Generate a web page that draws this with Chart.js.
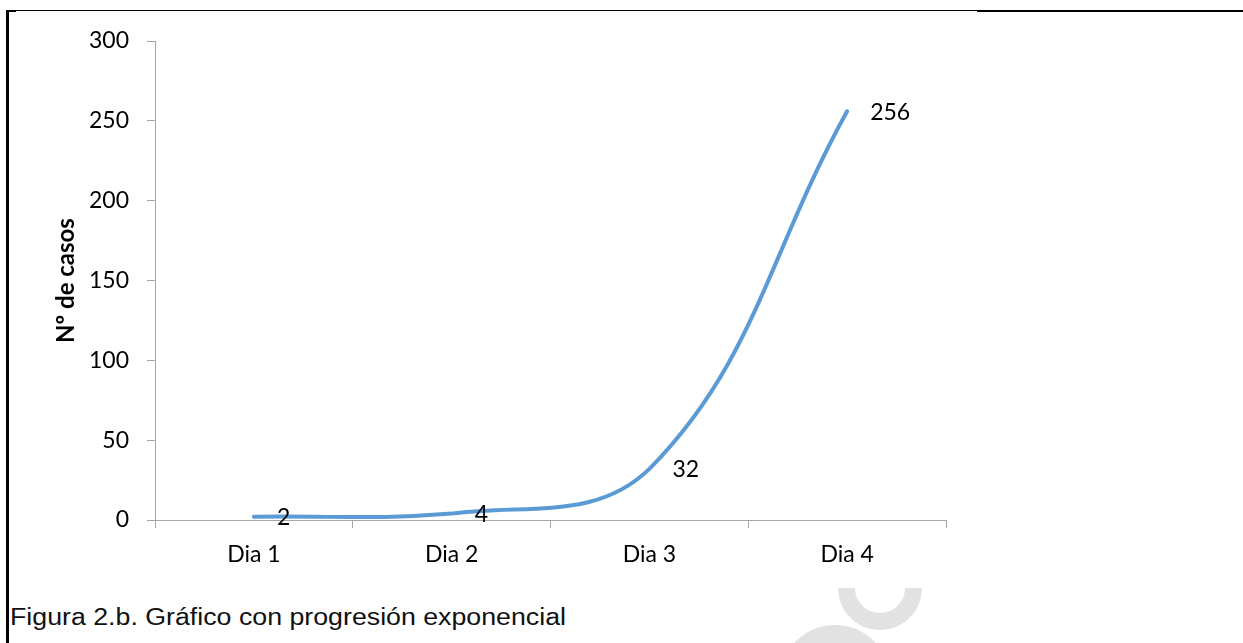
<!DOCTYPE html>
<html lang="es">
<head>
<meta charset="utf-8">
<title>Gráfico con progresión exponencial</title>
<script src="https://cdn.jsdelivr.net/npm/chart.js@4.4.1/dist/chart.umd.min.js"></script>
<style>
    html, body {
        margin: 0;
        padding: 0;
        background: #fff;
    }
    body {
        position: relative;
        width: 1243px;
        height: 643px;
        overflow: hidden;
    }
    #chartbox {
        position: absolute;
        left: 0;
        top: 0;
        width: 1000px;
        height: 600px;
        z-index: 2;
    }
    .rule {
        position: absolute;
        background: #000;
        z-index: 3;
    }
    #caption {
        position: absolute;
        left: 10px;
        top: 606px;
        font-family: "Liberation Sans", Arial, sans-serif;
        font-size: 23px;
        line-height: 1;
        color: #111;
        white-space: nowrap;
        transform-origin: 0 0;
        z-index: 3;
    }
    .mark {
        position: absolute;
        overflow: hidden;
        z-index: 1;
    }
    .mark div {
        position: absolute;
        border-style: solid;
        border-color: #e2e2e2;
        border-radius: 50%;
        box-sizing: border-box;
    }
</style>
</head>
<body>
<div id="chartbox"><canvas id="expchart"></canvas></div>

<div class="rule" style="left:6px;top:10px;width:3px;height:633px"></div>
<div class="rule" style="left:6px;top:10px;width:10px;height:2px"></div>
<div class="rule" style="left:6px;top:10px;width:971px;height:1px"></div>
<div class="rule" style="left:977px;top:10px;width:266px;height:2px"></div>

<div class="mark" style="left:830px;top:588px;width:100px;height:55px">
    <div style="left:8px;top:-42px;width:84px;height:84px;border-width:17px"></div>
</div>
<div class="mark" style="left:760px;top:600px;width:120px;height:43px">
    <div style="left:20px;top:25px;width:110px;height:110px;border-width:20px"></div>
</div>

<div id="caption">Figura 2.b. Gráfico con progresión exponencial</div>

<script>
const dias = ['Dia 1', 'Dia 2', 'Dia 3', 'Dia 4'];
const casos = [2, 4, 32, 256];
const yTicks = [0, 50, 100, 150, 200, 250, 300];

const tickFont = { family: 'Lato, "Open Sans", sans-serif', size: 23 };
const axisGray = '#a6a6a6';

// etiquetas de datos a la derecha de cada punto
const valueLabels = {
    id: 'valueLabels',
    afterDatasetsDraw: (chart) => {
        const { ctx } = chart;
        const meta = chart.getDatasetMeta(0);
        ctx.save();
        ctx.font = `${tickFont.size}px ${tickFont.family}`;
        ctx.fillStyle = '#000';
        ctx.textAlign = 'left';
        ctx.textBaseline = 'middle';
        meta.data.forEach((pt, i) => {
            ctx.fillText(String(casos[i]), pt.x + 23, pt.y + 1);
        });
        ctx.restore();
    }
};

window.addEventListener('DOMContentLoaded', () => {
    const caption = document.getElementById('caption');
    const capWidth = caption.getBoundingClientRect().width;
    if (capWidth > 0) {
        caption.style.transform = `scaleX(${556 / capWidth})`;
    }

    const ctx = document.getElementById('expchart').getContext('2d');
    new Chart(ctx, {
        type: 'line',
        data: {
            labels: dias,
            datasets: [{
                data: casos,
                borderColor: '#5b9bd5',
                borderWidth: 4,
                borderCapStyle: 'round',
                tension: 0.4,
                pointRadius: 0,
                pointHoverRadius: 0,
                fill: false
            }]
        },
        options: {
            responsive: true,
            maintainAspectRatio: false,
            animation: false,
            layout: {
                padding: { left: 52, top: 41, right: 54, bottom: 0 }
            },
            plugins: {
                legend: { display: false },
                tooltip: { enabled: false }
            },
            scales: {
                x: {
                    offset: true,
                    afterFit: (scale) => { scale.height = 80; },
                    border: { display: true, color: axisGray, width: 1 },
                    grid: {
                        offset: true,
                        drawOnChartArea: false,
                        drawTicks: true,
                        tickLength: 8,
                        tickColor: axisGray
                    },
                    ticks: {
                        color: '#000',
                        font: tickFont,
                        padding: 13,
                        maxRotation: 0
                    }
                },
                y: {
                    min: 0,
                    max: 300,
                    afterFit: (scale) => { scale.width = 103; },
                    afterBuildTicks: (scale) => {
                        scale.ticks = yTicks.map(v => ({ value: v }));
                    },
                    border: { display: true, color: axisGray, width: 1 },
                    grid: {
                        drawOnChartArea: false,
                        drawTicks: true,
                        tickLength: 8,
                        tickColor: axisGray
                    },
                    ticks: {
                        color: '#000',
                        font: tickFont,
                        padding: 18
                    },
                    title: {
                        display: true,
                        text: 'Nº de casos',
                        color: '#000',
                        padding: 0,
                        font: { family: tickFont.family, size: 24, weight: 'bold' }
                    }
                }
            }
        },
        plugins: [valueLabels]
    });
});
</script>
</body>
</html>
